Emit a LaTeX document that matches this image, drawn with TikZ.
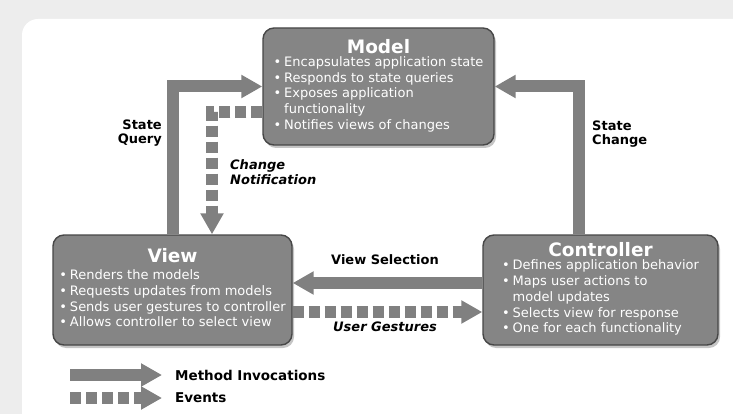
\documentclass[tikz,border=0pt]{standalone}
\usepackage{fontspec}
\setmainfont{DejaVu Sans}
\usetikzlibrary{arrows.meta}
\usetikzlibrary{shadows}
\newcommand{\bul}{\textbullet}
\newcommand{\boxttl}[1]{{\fontsize{18.5}{20}\selectfont\bfseries #1}}
\colorlet{boxbg}{black!48}
\colorlet{boxrim}{black!72}
\colorlet{arrowbg}{black!50}
\colorlet{framebg}{black!7}
\tikzset{mvc/.style={
  draw=boxrim, fill=boxbg, line width=1.4pt,
  rounded corners=11pt, text=white, align=center, inner sep=0pt,
  font=\fontsize{13}{15.7}\selectfont,
  drop shadow={shadow xshift=2pt,shadow yshift=-3pt,opacity=0.45}
}}
\tikzset{invoke/.style={
  draw=arrowbg, line width=12pt,
  -{Triangle[width=22pt,length=21pt]}
}}
\tikzset{event/.style={invoke, dash pattern=on 11pt off 5pt}}
\tikzset{lbl/.style={font=\fontsize{13}{14}\selectfont\bfseries, align=left, inner sep=0pt}}
\tikzset{evlbl/.style={lbl, font=\fontsize{13}{14.5}\selectfont\bfseries\itshape}}

\begin{document}
\begin{tikzpicture}[x=1pt,y=-1pt]
    \useasboundingbox (0,0) rectangle (733,414);
    \fill[framebg] (0,0) rectangle (733,414);
    \fill[white] (22,19) [rounded corners=16pt] rectangle (760,440);

    \node[mvc, minimum width=231pt, minimum height=117pt] (model) at (378.5,86.5)
      {\boxttl{Model}\\[1pt]
       \begin{tabular}{@{}l@{\hspace{3pt}}l@{}}
       \bul & Encapsulates application state\\
       \bul & Responds to state queries\\
       \bul & Exposes application\\
            & functionality\\
       \bul & Notifies views of changes
       \end{tabular}};
    \node[mvc, minimum width=239pt, minimum height=110pt] (view) at (172.5,290)
      {\boxttl{View}\\[5pt]
       \begin{tabular}{@{}l@{\hspace{3pt}}l@{}}
       \bul & Renders the models\\
       \bul & Requests updates from models\\
       \bul & Sends user gestures to controller\\
       \bul & Allows controller to select view
       \end{tabular}};
    \node[mvc, minimum width=235pt, minimum height=110pt] (ctrl) at (600.5,290)
      {\boxttl{Controller}\\[1pt]
       \begin{tabular}{@{}l@{\hspace{3pt}}l@{}}
       \bul & Defines application behavior\\
       \bul & Maps user actions to\\
            & model updates\\
       \bul & Selects view for response\\
       \bul & One for each functionality
       \end{tabular}};

    \draw[invoke] (view.north) |- (model.west);
    \draw[invoke] ([xshift=-22pt]ctrl.north) |- (model.east);
    \draw[event] ([yshift=-25.5pt]model.west) -| ([xshift=39.5pt]view.north);
    \draw[invoke] ([yshift=7pt]ctrl.west) -- ([yshift=7pt]view.east);
    \draw[event] ([yshift=-22pt]view.east) -- ([yshift=-22pt]ctrl.west);

    \node[lbl, anchor=east, align=right] (sq) at (162,133.5) {State\\Query};
    \node[evlbl, anchor=west] (cn) at (230,172) {Change\\Notification};
    \node[lbl, anchor=west] (sc) at (592,134) {State\\Change};
    \node[lbl] (vs) at (385,260) {View Selection};
    \node[evlbl] (ug) at (385,327) {User Gestures};

    % legend
    \coordinate (m0) at (70,375);
    \coordinate (e0) at (70,398);
    \node[lbl, anchor=west, font=\fontsize{13.5}{15}\selectfont\bfseries] (meth) at (175,375) {Method Invocations};
    \node[lbl, anchor=west, font=\fontsize{13.5}{15}\selectfont\bfseries] (ev) at (175,398) {Events};
    \draw[invoke] (m0) -- ([xshift=-13pt]meth.west);
    \draw[event] (e0) -- ([xshift=-13pt]ev.west);
\end{tikzpicture}
\end{document}
